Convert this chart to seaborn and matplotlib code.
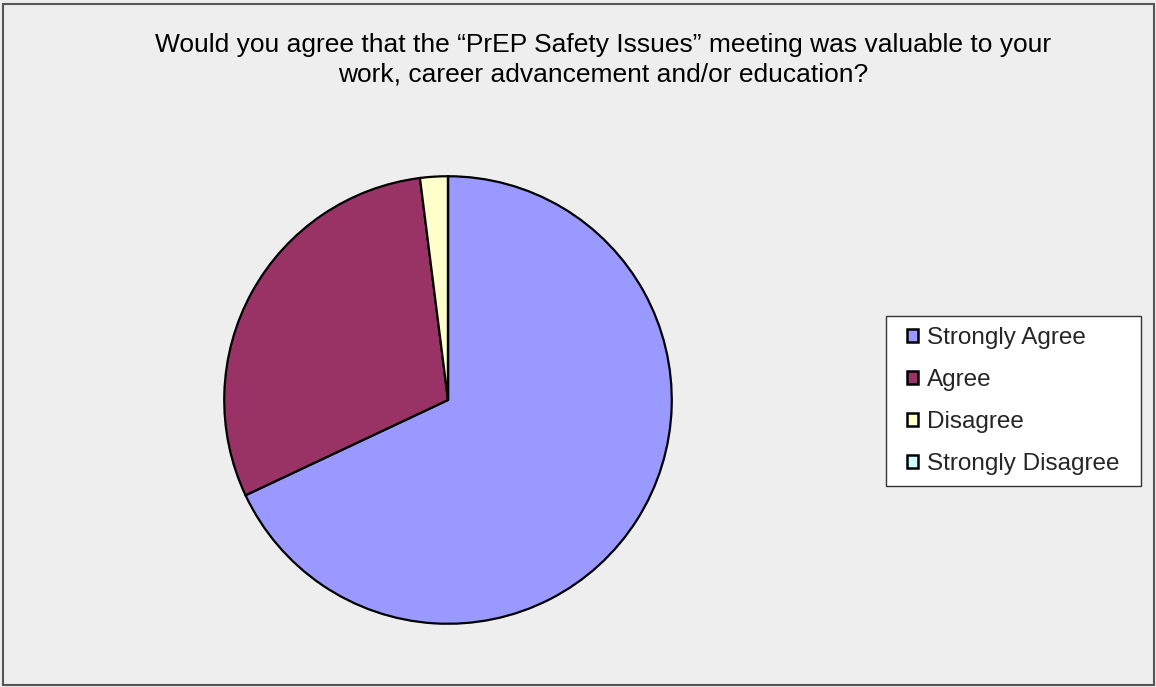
import matplotlib
matplotlib.use("Agg")
import matplotlib.pyplot as plt
import seaborn as sns
from matplotlib.patches import Rectangle

# survey answers (share of respondents, %)
categories = ["Strongly Agree", "Agree", "Disagree", "Strongly Disagree"]
shares = [68, 30, 2, 0]
colors = ["#9999FF", "#993366", "#FFFFCC", "#CCFFFF"]
title = ("Would you agree that the \u201cPrEP Safety Issues\u201d meeting was valuable to your\n"
         "work, career advancement and/or education?")

sns.set_theme(style="white")
plt.rcParams["font.family"] = ["Liberation Sans", "DejaVu Sans"]

W, H = 1156, 687
fig = plt.figure(figsize=(W / 100, H / 100), dpi=100)
fig.patch.set_facecolor("#EEEEEE")
fig.patches.append(Rectangle((3 / W, 2 / H), 1151 / W, 681 / H, transform=fig.transFigure,
                             fill=False, edgecolor="#555555", linewidth=1.5))

cx, cy, r = 448, 400, 226
ax = fig.add_axes([(cx - r) / W, (H - cy - r) / H, 2 * r / W, 2 * r / H])
ax.set_facecolor("none")
wedges, _ = ax.pie(shares, colors=colors, startangle=90, counterclock=False,
                   radius=1, wedgeprops=dict(edgecolor="black", linewidth=1.6))
ax.set_xlim(-1.01, 1.01)
ax.set_ylim(-1.01, 1.01)
ax.set_aspect("equal")
ax.axis("off")

fig.text(603 / W, 1 - 60 / H, title, ha="center", va="center", fontsize=19,
         linespacing=1.3, color="black")

# legend box drawn separately so its size matches the original
fig.patches.append(Rectangle((886 / W, (H - 486) / H), 255 / W, 170 / H,
                             transform=fig.transFigure, facecolor="white",
                             edgecolor="#333333", linewidth=1, zorder=1))
handles = [Rectangle((0, 0), 1, 1, facecolor=c, edgecolor="black", linewidth=1.8) for c in colors]
leg = fig.legend(handles, categories, loc="center left",
                 bbox_to_anchor=(907 / W, 1 - 401 / H), fontsize=17.5,
                 frameon=False, handlelength=0.45, handleheight=0.45,
                 handletextpad=0.37, labelspacing=0.82, borderpad=0,
                 borderaxespad=0)
leg.set_zorder(3)

fig.savefig("out.png", dpi=100, facecolor=fig.get_facecolor())
